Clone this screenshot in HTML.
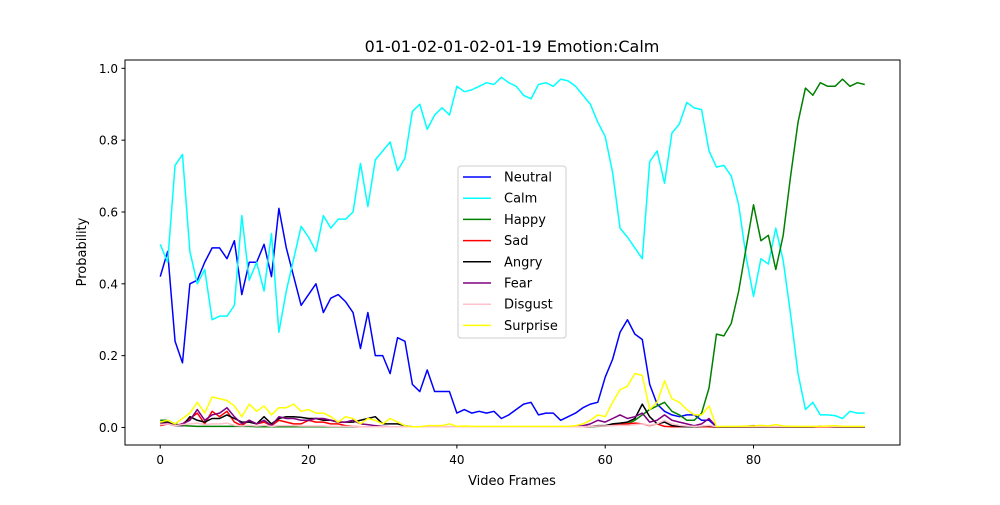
<!DOCTYPE html>
<html><head><meta charset="utf-8"><style>
body{margin:0;background:#fff}
svg{font-family:"DejaVu Sans","Liberation Sans",sans-serif}
</style></head><body>
<svg id="chart" width="1000" height="500" viewBox="0 0 1000 500" xmlns="http://www.w3.org/2000/svg">
<rect width="1000" height="500" fill="#fff"/>
<text x="512" y="52" font-size="16" text-anchor="middle">01-01-02-01-02-01-19 Emotion:Calm</text>
<g id="plot"></g>
<g id="axes"></g>
<rect x="125" y="60" width="775" height="385" fill="none" stroke="#000" stroke-width="1"/>
<text x="512" y="485" font-size="13" text-anchor="middle">Video Frames</text>
<text x="86" y="252" font-size="13" text-anchor="middle" transform="rotate(-90 86 252)">Probability</text>
<g id="legend"></g>
</svg>
<script>
const neutral=[0.42,0.49,0.24,0.18,0.40,0.41,0.46,0.50,0.50,0.47,0.52,0.37,0.46,0.46,0.51,0.42,0.61,0.50,0.42,0.34,0.37,0.40,0.32,0.36,0.37,0.35,0.32,0.22,0.32,0.20,0.20,0.15,0.25,0.24,0.12,0.10,0.16,0.10,0.10,0.10,0.04,0.05,0.04,0.045,0.04,0.045,0.025,0.035,0.05,0.065,0.07,0.035,0.04,0.04,0.02,0.03,0.04,0.055,0.065,0.07,0.14,0.19,0.265,0.30,0.26,0.245,0.12,0.065,0.045,0.035,0.03,0.035,0.035,0.02,0.02,0.002,0.002,0.002,0.002,0.002,0.002,0.002,0.002,0.002,0.002,0.002,0.002,0.002,0.002,0.002,0.002,0.002,0.002,0.002,0.002,0.002];
const calm=[0.51,0.46,0.73,0.76,0.49,0.40,0.44,0.30,0.31,0.31,0.34,0.59,0.41,0.46,0.38,0.54,0.265,0.38,0.47,0.56,0.53,0.49,0.59,0.555,0.58,0.58,0.60,0.735,0.615,0.745,0.77,0.795,0.715,0.75,0.88,0.90,0.83,0.87,0.89,0.87,0.95,0.935,0.94,0.95,0.96,0.955,0.975,0.96,0.95,0.925,0.915,0.955,0.96,0.95,0.97,0.965,0.95,0.925,0.90,0.85,0.81,0.71,0.555,0.53,0.50,0.47,0.74,0.77,0.68,0.82,0.845,0.905,0.89,0.885,0.77,0.725,0.73,0.70,0.62,0.475,0.365,0.47,0.455,0.555,0.465,0.315,0.15,0.05,0.07,0.035,0.035,0.033,0.025,0.045,0.04,0.04];
const happy=[0.02,0.02,0.01,0.005,0.004,0.003,0.003,0.003,0.003,0.003,0.003,0.003,0.003,0.002,0.002,0.002,0.002,0.002,0.002,0.002,0.002,0.002,0.002,0.002,0.002,0.002,0.002,0.002,0.002,0.002,0.002,0.002,0.002,0.002,0.002,0.002,0.002,0.002,0.002,0.002,0.002,0.002,0.002,0.002,0.002,0.002,0.002,0.002,0.002,0.002,0.002,0.002,0.002,0.002,0.002,0.002,0.002,0.002,0.002,0.003,0.004,0.006,0.008,0.01,0.02,0.035,0.05,0.06,0.07,0.045,0.035,0.02,0.02,0.04,0.11,0.26,0.255,0.29,0.38,0.50,0.62,0.52,0.535,0.44,0.535,0.70,0.85,0.945,0.925,0.96,0.95,0.95,0.97,0.95,0.96,0.955];
const sad=[0.005,0.01,0.005,0.01,0.025,0.04,0.01,0.045,0.03,0.045,0.015,0.005,0.02,0.01,0.015,0.005,0.02,0.015,0.01,0.01,0.02,0.015,0.015,0.01,0.01,0.005,0.003,0.002,0.002,0.002,0.002,0.002,0.002,0.002,0.002,0.002,0.002,0.002,0.002,0.002,0.002,0.002,0.002,0.002,0.002,0.002,0.002,0.002,0.002,0.002,0.002,0.002,0.002,0.002,0.002,0.002,0.002,0.002,0.003,0.004,0.005,0.007,0.01,0.01,0.012,0.01,0.005,0.01,0.003,0.002,0.002,0.002,0.002,0.002,0.002,0.001,0.001,0.001,0.001,0.001,0.001,0.001,0.001,0.001,0.001,0.001,0.001,0.001,0.001,0.001,0.001,0.001,0.001,0.001,0.001,0.001];
const angry=[0.015,0.015,0.005,0.005,0.03,0.02,0.015,0.025,0.025,0.035,0.025,0.015,0.015,0.01,0.03,0.01,0.025,0.03,0.03,0.028,0.025,0.025,0.02,0.02,0.015,0.015,0.015,0.02,0.025,0.03,0.01,0.01,0.01,0.005,0.002,0.002,0.002,0.002,0.002,0.002,0.002,0.002,0.002,0.002,0.002,0.002,0.002,0.002,0.002,0.002,0.002,0.002,0.002,0.002,0.002,0.002,0.002,0.002,0.003,0.005,0.005,0.01,0.012,0.015,0.025,0.065,0.03,0.01,0.015,0.005,0.003,0.002,0.002,0.003,0.005,0.001,0.001,0.001,0.001,0.001,0.001,0.001,0.001,0.001,0.001,0.001,0.001,0.001,0.001,0.003,0.002,0.001,0.001,0.001,0.001,0.001];
const fear=[0.01,0.012,0.005,0.01,0.02,0.05,0.02,0.035,0.04,0.055,0.03,0.01,0.02,0.01,0.02,0.005,0.03,0.025,0.025,0.02,0.02,0.025,0.025,0.02,0.015,0.015,0.02,0.01,0.008,0.005,0.003,0.002,0.002,0.002,0.002,0.002,0.002,0.002,0.002,0.002,0.002,0.002,0.002,0.002,0.002,0.002,0.002,0.002,0.002,0.002,0.002,0.002,0.002,0.002,0.002,0.002,0.002,0.005,0.01,0.02,0.015,0.025,0.035,0.025,0.03,0.04,0.015,0.02,0.035,0.02,0.015,0.01,0.005,0.01,0.025,0.002,0.002,0.002,0.002,0.003,0.005,0.003,0.002,0.002,0.002,0.002,0.002,0.002,0.002,0.002,0.002,0.002,0.002,0.002,0.002,0.002];
const disgust=[0.008,0.01,0.005,0.008,0.01,0.012,0.008,0.01,0.01,0.012,0.006,0.004,0.006,0.004,0.006,0.003,0.005,0.005,0.005,0.004,0.004,0.004,0.004,0.003,0.003,0.003,0.003,0.002,0.002,0.002,0.002,0.002,0.002,0.002,0.002,0.002,0.002,0.002,0.002,0.002,0.002,0.002,0.002,0.002,0.002,0.002,0.002,0.002,0.002,0.002,0.002,0.002,0.002,0.002,0.002,0.002,0.002,0.002,0.003,0.004,0.004,0.005,0.006,0.006,0.008,0.01,0.006,0.01,0.02,0.01,0.006,0.004,0.003,0.004,0.006,0.002,0.002,0.002,0.002,0.002,0.002,0.002,0.002,0.002,0.002,0.002,0.002,0.002,0.002,0.002,0.002,0.002,0.002,0.002,0.002,0.002];
const surprise=[0.015,0.02,0.01,0.025,0.04,0.07,0.04,0.085,0.08,0.075,0.06,0.03,0.065,0.045,0.06,0.035,0.055,0.055,0.065,0.045,0.05,0.04,0.04,0.03,0.015,0.03,0.025,0.01,0.025,0.02,0.01,0.025,0.015,0.005,0.002,0.002,0.005,0.005,0.005,0.01,0.003,0.004,0.003,0.003,0.003,0.003,0.003,0.003,0.003,0.003,0.003,0.003,0.003,0.003,0.003,0.003,0.005,0.01,0.02,0.035,0.03,0.07,0.105,0.115,0.15,0.145,0.05,0.07,0.13,0.08,0.07,0.05,0.035,0.035,0.06,0.002,0.003,0.003,0.003,0.004,0.004,0.006,0.004,0.008,0.004,0.003,0.003,0.003,0.003,0.003,0.004,0.005,0.003,0.003,0.003,0.003];
const seriesNames=["Neutral","Calm","Happy","Sad","Angry","Fear","Disgust","Surprise"];
const seriesColors=["blue","cyan","green","red","black","purple","pink","yellow"];
const xTicks=[0,20,40,60,80];
const yTicks=[0.0,0.2,0.4,0.6,0.8,1.0];

const NS="http://www.w3.org/2000/svg";
const L=125,R=900,T=60,B=445,xmin=-4.75,xmax=99.75,ymin=-0.0488,ymax=1.0232;
function xs(v){return L+(v-xmin)/(xmax-xmin)*(R-L);}
function ys(v){return B-(v-ymin)/(ymax-ymin)*(B-T);}
function mk(tag,attrs,parent){const e=document.createElementNS(NS,tag);for(const k in attrs)e.setAttribute(k,attrs[k]);parent.appendChild(e);return e;}
const all=[neutral,calm,happy,sad,angry,fear,disgust,surprise];
const plot=document.getElementById('plot');
all.forEach((arr,si)=>{
  const p=mk('polyline',{points:arr.map((v,i)=>xs(i).toFixed(2)+','+ys(v).toFixed(2)).join(' '),fill:'none',stroke:seriesColors[si],'stroke-width':1.5,'stroke-linejoin':'round'},plot);
  
  
});
const axes=document.getElementById('axes');
xTicks.forEach(t=>{
  const g=mk('g',{},axes);
  
  
  mk('line',{x1:xs(t),x2:xs(t),y1:B,y2:B+3.5,stroke:'#000'},g);
  const tx=mk('text',{x:xs(t),y:B+19,'font-size':12,'text-anchor':'middle'},g);tx.textContent=t;
});
yTicks.forEach(t=>{
  const g=mk('g',{},axes);
  
  
  mk('line',{x1:L-3.5,x2:L,y1:ys(t),y2:ys(t),stroke:'#000'},g);
  const tx=mk('text',{x:L-7,y:ys(t)+4.5,'font-size':12,'text-anchor':'end'},g);tx.textContent=t.toFixed(1);
});
const lg=document.getElementById('legend');
mk('rect',{x:458,y:166,width:108,height:172,rx:3,fill:'#fff','fill-opacity':0.8,stroke:'#ccc'},lg);
seriesNames.forEach((n,i)=>{
  const g=mk('g',{},lg);
  
  
  const y=177+i*21.2;
  mk('line',{x1:463,x2:491,y1:y,y2:y,stroke:seriesColors[i],'stroke-width':1.5},g);
  const t=mk('text',{x:504,y:y+4.5,'font-size':13},g);t.textContent=n;
});
</script>
</body></html>
